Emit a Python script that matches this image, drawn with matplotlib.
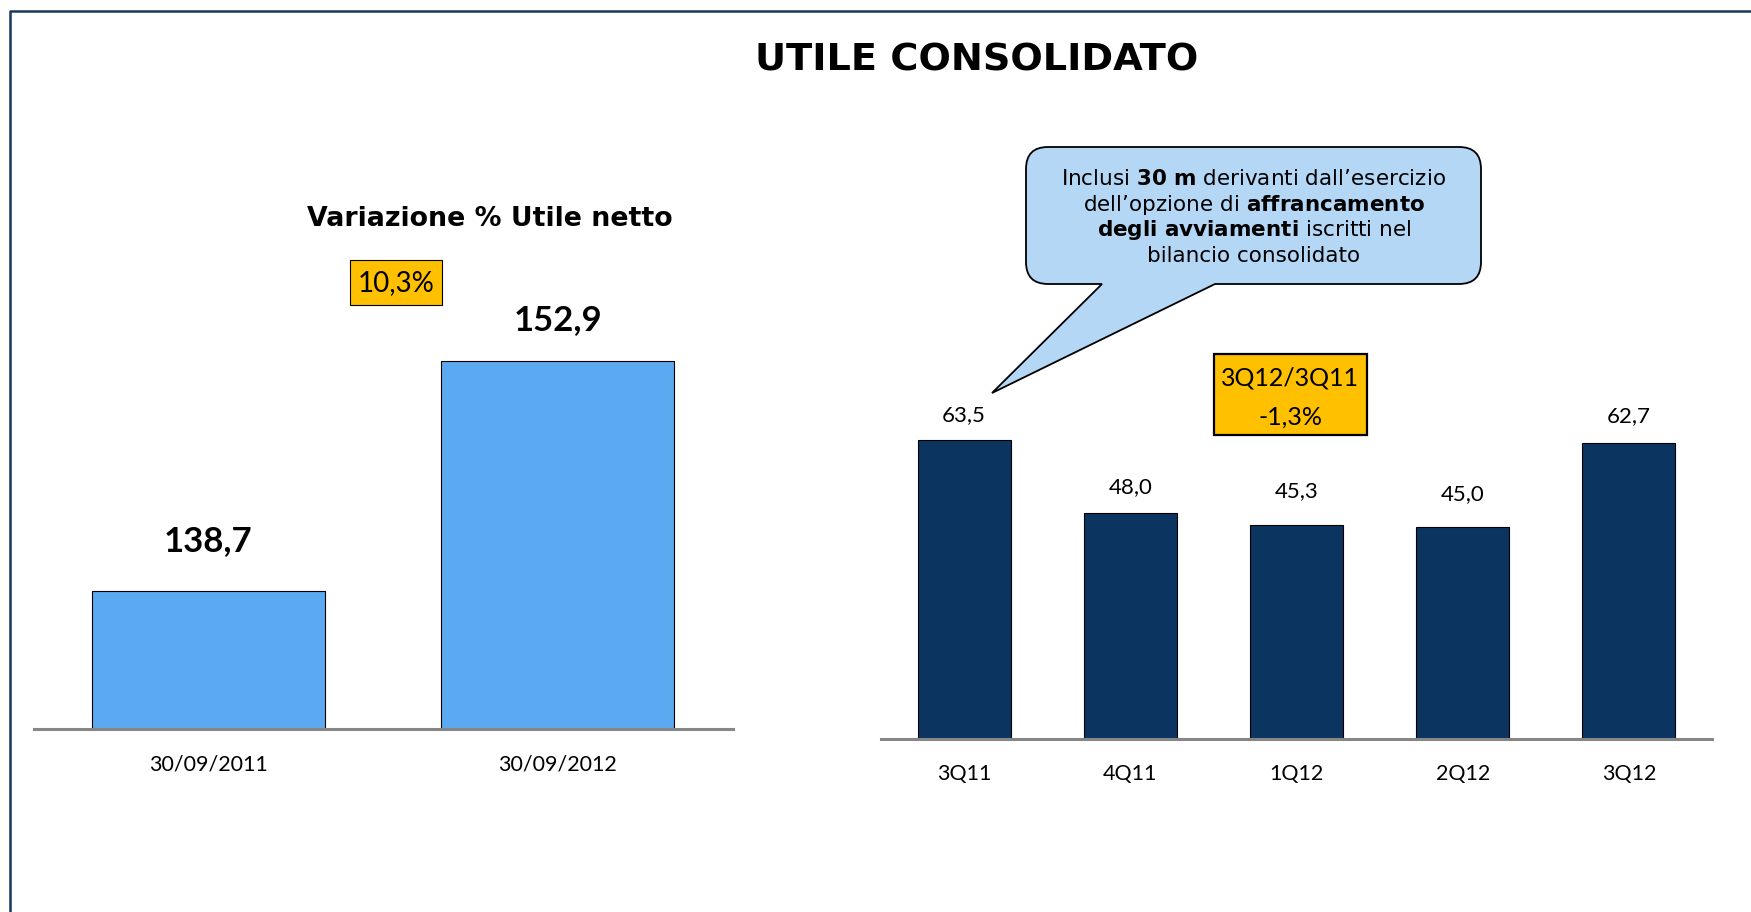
import matplotlib
matplotlib.use('Agg')
import matplotlib.pyplot as plt
from matplotlib.patches import Rectangle, PathPatch
from matplotlib.path import Path
from matplotlib.lines import Line2D

plt.rcParams['mathtext.fontset'] = 'dejavusans'

# data
left_categories = ['30/09/2011', '30/09/2012']
left_values = [138.7, 152.9]
left_labels = ['138,7', '152,9']
left_change = '10,3%'

right_categories = ['3Q11', '4Q11', '1Q12', '2Q12', '3Q12']
right_values = [63.5, 48.0, 45.3, 45.0, 62.7]
right_labels = ['63,5', '48,0', '45,3', '45,0', '62,7']
right_change = ['3Q12/3Q11', '-1,3%']

bubble_lines = [
    r'Inclusi $\mathbf{30\ m}$ derivanti dall’esercizio',
    r'dell’opzione di $\mathbf{affrancamento}$',
    r'$\mathbf{degli\ avviamenti}$ iscritti nel',
    'bilancio consolidato',
]

# label offsets above the bars (points), as placed in the original
left_offsets = [36, 29.6]
right_offsets = [17.9, 18.2, 24.4, 23.7, 19.9]

W, H = 1751, 912
fig = plt.figure(figsize=(W / 100, H / 100 + 0.0001), dpi=100)


def fx(x):
    return x / W


def fy(y):
    return 1 - y / H


def style_axis(ax):
    for s in ['top', 'right', 'left']:
        ax.spines[s].set_visible(False)
    ax.spines['bottom'].set_color('#868686')
    ax.spines['bottom'].set_linewidth(2.2)
    ax.set_yticks([])
    ax.tick_params(axis='x', length=0, pad=18, labelsize=15.5)
    for t in ax.get_xticklabels():
        t.set_fontfamily('Lato')


# left chart
ax1 = fig.add_axes([fx(33.5), fy(729), (732.5 - 33.5) / W, (729 - 100) / H])
ax1.bar(range(len(left_values)), left_values, width=0.666, color='#5BA9F1',
        edgecolor='black', linewidth=0.8)
ax1.set_xlim(-0.5, len(left_values) - 0.5)
ax1.set_ylim(130.15, 130.15 + 629 / 16.18)
ax1.set_xticks(range(len(left_values)))
ax1.set_xticklabels(left_categories)
style_axis(ax1)
for i, (v, lab) in enumerate(zip(left_values, left_labels)):
    ax1.annotate(lab, (i, v), xytext=(0, left_offsets[i]), textcoords='offset points',
                 ha='center', va='center', fontsize=25, fontweight='bold',
                 family='Lato')

# right chart
ax2 = fig.add_axes([fx(881), fy(738.7), 831 / W, (738.7 - 100) / H])
ax2.bar(range(len(right_values)), right_values, width=0.56, color='#0B3560',
        edgecolor='black', linewidth=0.8)
ax2.set_xlim(-0.5, len(right_values) - 0.5)
ax2.set_ylim(0, 638.7 / 4.71)
ax2.set_xticks(range(len(right_values)))
ax2.set_xticklabels(right_categories)
style_axis(ax2)
for i, (v, lab) in enumerate(zip(right_values, right_labels)):
    ax2.annotate(lab, (i, v), xytext=(0, right_offsets[i]), textcoords='offset points',
                 ha='center', va='center', fontsize=16, family='Lato')

# titles
fig.text(fx(976.5), fy(60), 'UTILE CONSOLIDATO', ha='center', va='center',
         fontsize=27.5, fontweight='bold', family='DejaVu Sans')
fig.text(fx(489.5), fy(218.5), 'Variazione % Utile netto', ha='center', va='center',
         fontsize=19.3, fontweight='bold', family='DejaVu Sans')

# orange boxes
fig.add_artist(Rectangle((fx(350), fy(305)), 92 / W, 45 / H, transform=fig.transFigure,
                         facecolor='#FFC000', edgecolor='black', linewidth=0.8))
fig.text(fx(396), fy(283), left_change, ha='center', va='center', fontsize=20,
         family='Lato')

fig.add_artist(Rectangle((fx(1214), fy(435)), 153 / W, 81 / H, transform=fig.transFigure,
                         facecolor='#FFC000', edgecolor='black', linewidth=1.6))
fig.text(fx(1290), fy(378), right_change[0], ha='center', va='center', fontsize=18,
         family='Lato')
fig.text(fx(1290), fy(417), right_change[1], ha='center', va='center', fontsize=18,
         family='Lato')

# speech bubble
x0, x1, y0, y1, r = 1026, 1481, 147, 284, 22
xa, xb, tip = 1102, 1215, (992, 393)
pts = [
    ((x0 + r, y0), Path.MOVETO),
    ((x1 - r, y0), Path.LINETO),
    ((x1, y0), Path.CURVE3), ((x1, y0 + r), Path.CURVE3),
    ((x1, y1 - r), Path.LINETO),
    ((x1, y1), Path.CURVE3), ((x1 - r, y1), Path.CURVE3),
    ((xb, y1), Path.LINETO),
    (tip, Path.LINETO),
    ((xa, y1), Path.LINETO),
    ((x0 + r, y1), Path.LINETO),
    ((x0, y1), Path.CURVE3), ((x0, y1 - r), Path.CURVE3),
    ((x0, y0 + r), Path.LINETO),
    ((x0, y0), Path.CURVE3), ((x0 + r, y0), Path.CURVE3),
    ((x0 + r, y0), Path.CLOSEPOLY),
]
verts = [(fx(p[0]), fy(p[1])) for p, c in pts]
codes = [c for p, c in pts]
fig.add_artist(PathPatch(Path(verts, codes), transform=fig.transFigure,
                         facecolor='#B4D7F6', edgecolor='black', linewidth=1.3))
for k, line in enumerate(bubble_lines):
    fig.text(fx(1254), fy(185 + 25.5 * k), line, ha='center', va='baseline',
             fontsize=15.5, family='DejaVu Sans')

# frame
fig.add_artist(Line2D([fx(10), fx(10), 1], [0, fy(11), fy(11)], transform=fig.transFigure,
                      color='#17375E', linewidth=1.8))

fig.savefig('out.png', dpi=100)
